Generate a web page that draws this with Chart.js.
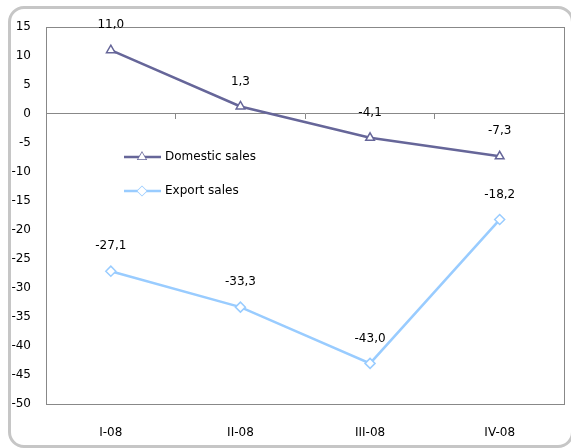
<!DOCTYPE html>
<html>
<head>
<meta charset="utf-8">
<script src="https://cdn.jsdelivr.net/npm/chart.js@4"></script>
<style>
  html, body { margin: 0; padding: 0; overflow: hidden; background: #fff; }
  #wrap { position: relative; width: 571px; height: 448px; overflow: hidden; }
  #frame {
    position: absolute; left: 8px; top: 6px; width: 566px; height: 442px;
    border: 3px solid #c6c6c6; border-radius: 16px; box-sizing: border-box;
  }
  canvas { position: absolute; left: 0; top: 0; }
</style>
</head>
<body>
<div id="wrap">
  <div id="frame"></div>
  <canvas id="chart" width="571" height="448"></canvas>
</div>
<script>
const quarters = ["I-08", "II-08", "III-08", "IV-08"];
const domesticSales = [11.0, 1.3, -4.1, -7.3];
const exportSales = [-27.1, -33.3, -43.0, -18.2];
const yTicks = [15, 10, 5, 0, -5, -10, -15, -20, -25, -30, -35, -40, -45, -50];

const domesticColor = "#666699";
const exportColor = "#99ccff";
const font = { family: "DejaVu Sans", size: 12 };

// plot box, point labels and the legend inside the plot
const extras = {
  id: "extras",
  afterDraw(c) {
    const ctx = c.ctx;
    const a = c.chartArea;
    ctx.save();
    ctx.strokeStyle = "#888888";
    ctx.lineWidth = 1;
    ctx.strokeRect(Math.round(a.left) + 0.5, Math.round(a.top) + 0.5,
      Math.round(a.right - a.left) - 1, Math.round(a.bottom - a.top));

    ctx.font = "12px 'DejaVu Sans'";
    ctx.fillStyle = "#000";
    ctx.textAlign = "center";
    ctx.textBaseline = "middle";
    c.data.datasets.forEach((ds, i) => {
      c.getDatasetMeta(i).data.forEach((pt, j) => {
        ctx.fillText(ds.data[j].toFixed(1).replace(".", ","), pt.x, pt.y - 25);
      });
    });

    // legend
    const items = [
      { label: "Domestic sales", color: domesticColor, shape: "triangle" },
      { label: "Export sales", color: exportColor, shape: "rectRot" }
    ];
    items.forEach((it, k) => {
      const y = 157 + k * 34;
      ctx.strokeStyle = it.color;
      ctx.lineWidth = 2.5;
      ctx.beginPath();
      ctx.moveTo(124, y);
      ctx.lineTo(161, y);
      ctx.stroke();
      ctx.fillStyle = "#fff";
      ctx.lineWidth = 1.5;
      Chart.helpers.drawPoint(ctx, { pointStyle: it.shape, radius: 4.5, borderWidth: 1.5 }, 142, y);
      ctx.fill();
      ctx.fillStyle = "#000";
      ctx.textAlign = "left";
      ctx.fillText(it.label, 165, y);
    });
    ctx.restore();
  }
};

new Chart(document.getElementById("chart"), {
  type: "line",
  data: {
    labels: quarters,
    datasets: [
      {
        label: "Domestic sales",
        data: domesticSales,
        borderColor: domesticColor,
        borderWidth: 2.5,
        pointStyle: "triangle",
        pointRadius: 5,
        pointBorderWidth: 1.5,
        pointBackgroundColor: "#fff",
        pointBorderColor: domesticColor,
        tension: 0
      },
      {
        label: "Export sales",
        data: exportSales,
        borderColor: exportColor,
        borderWidth: 2.5,
        pointStyle: "rectRot",
        pointRadius: 5,
        pointBorderWidth: 1.5,
        pointBackgroundColor: "#fff",
        pointBorderColor: exportColor,
        tension: 0
      }
    ]
  },
  options: {
    responsive: false,
    animation: false,
    layout: { padding: { top: 27, right: 5, left: 0, bottom: 0 } },
    plugins: { legend: { display: false }, tooltip: { enabled: false } },
    scales: {
      x: {
        offset: true,
        grid: { display: false, drawTicks: false },
        border: { display: false },
        ticks: { color: "#000", font: font, padding: 22 },
        afterFit: s => { s.height = 44; }
      },
      x2: {
        type: "category",
        labels: quarters,
        position: { y: 0 },
        offset: true,
        grid: { offset: true, drawOnChartArea: false, drawTicks: true, tickLength: 5, color: "#888888" },
        border: { display: true, color: "#888888", width: 1 },
        ticks: { display: false }
      },
      y: {
        min: -50,
        max: 15,
        afterBuildTicks: s => { s.ticks = yTicks.map(v => ({ value: v })); },
        grid: { display: false, drawTicks: false },
        border: { display: false },
        ticks: { color: "#000", font: font, padding: 15 },
        afterFit: s => { s.width = 46; }
      }
    }
  },
  plugins: [extras]
});
</script>
</body>
</html>
